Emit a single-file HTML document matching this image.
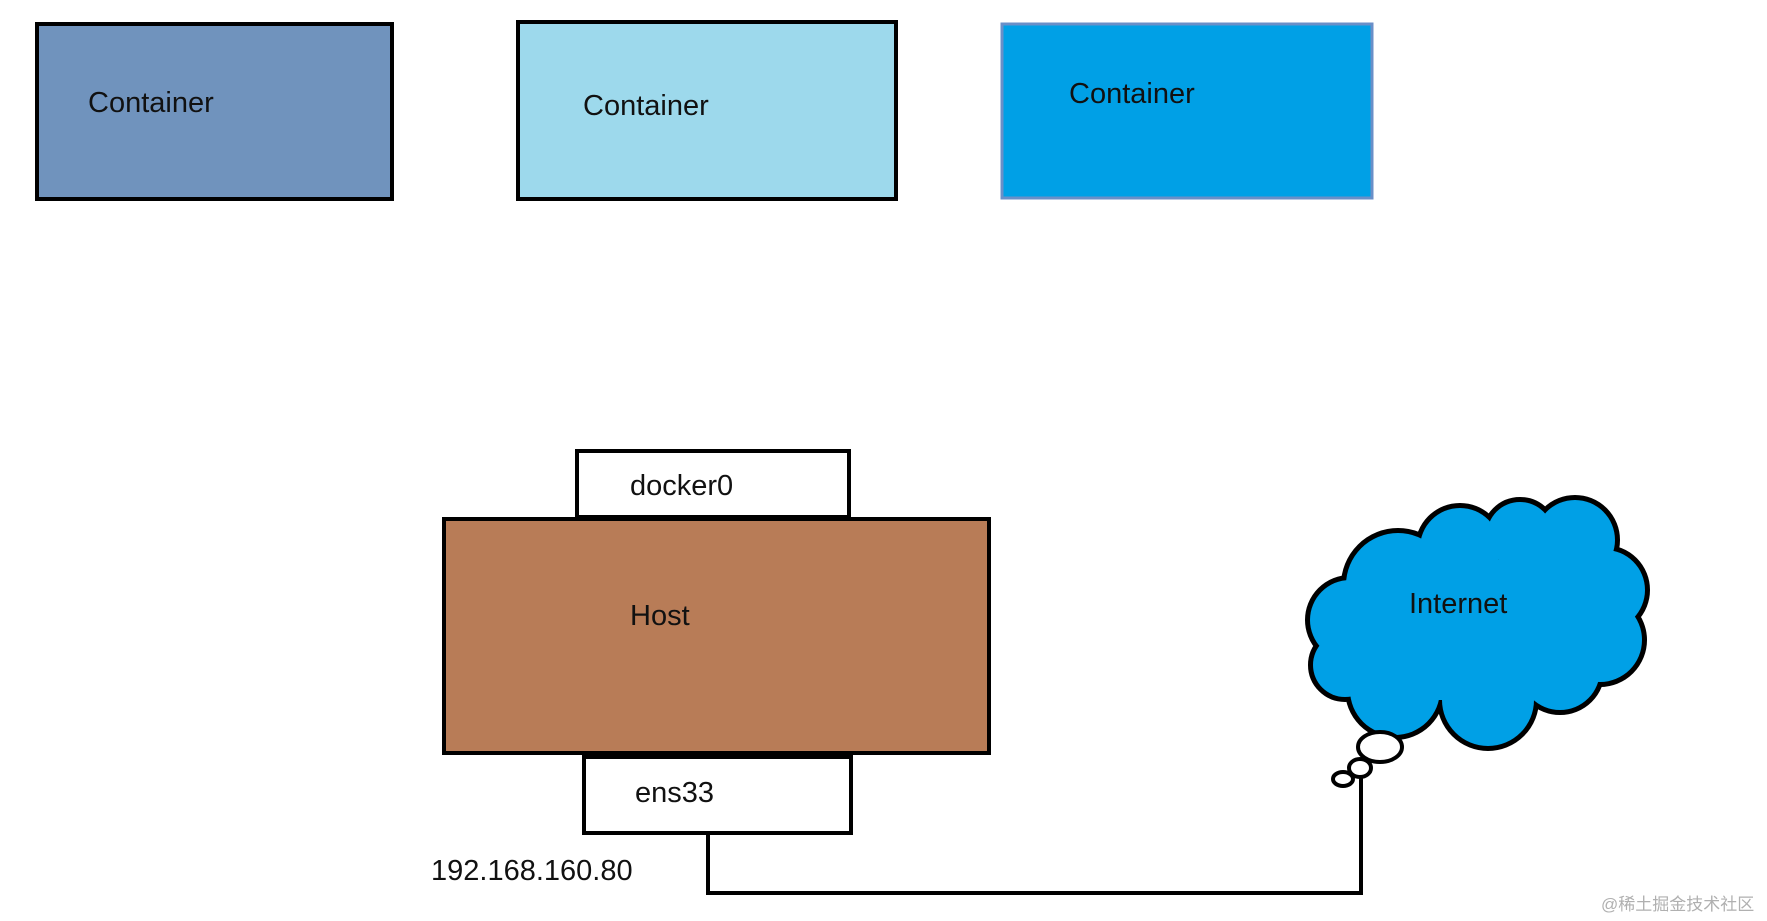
<!DOCTYPE html>
<html><head><meta charset="utf-8"><style>
html,body{margin:0;padding:0;background:#fff;width:1767px;height:921px;overflow:hidden}
svg text{font-family:"Liberation Sans",sans-serif;fill:#111}
</style></head><body>
<svg width="1767" height="921" viewBox="0 0 1767 921" xmlns="http://www.w3.org/2000/svg">
<rect x="37" y="24" width="355" height="175" fill="#7093bd" stroke="#000" stroke-width="4"/>
<text x="88" y="112" font-size="29">Container</text>
<rect x="518" y="22" width="378" height="177" fill="#9dd9ec" stroke="#000" stroke-width="4"/>
<text x="583" y="115" font-size="29">Container</text>
<rect x="1002" y="24" width="370" height="174" fill="#00a0e6" stroke="#6a8fc8" stroke-width="3"/>
<text x="1069" y="103" font-size="29">Container</text>

<rect x="577" y="451" width="272" height="66" fill="#fff" stroke="#000" stroke-width="4"/>
<text x="630" y="495" font-size="29">docker0</text>
<rect x="444" y="519" width="545" height="234" fill="#b87c57" stroke="#000" stroke-width="4"/>
<text x="630" y="625" font-size="29">Host</text>
<rect x="584" y="757" width="267" height="76" fill="#fff" stroke="#000" stroke-width="4"/>
<text x="635" y="802" font-size="29">ens33</text>
<text x="431" y="880" font-size="29">192.168.160.80</text>
<polyline points="708,833 708,893 1361,893 1361,773" fill="none" stroke="#000" stroke-width="4"/>

<g stroke="#000" stroke-width="10" fill="#00a0e6">
<circle cx="1350" cy="620" r="40"/><circle cx="1398" cy="585" r="52"/><circle cx="1460" cy="548" r="40"/>
<circle cx="1520" cy="535" r="33"/><circle cx="1575" cy="540" r="40"/><circle cx="1605" cy="590" r="40"/>
<circle cx="1600" cy="640" r="42"/><circle cx="1560" cy="670" r="40"/><circle cx="1488" cy="700" r="46"/>
<circle cx="1395" cy="690" r="45"/><circle cx="1345" cy="665" r="32"/>
</g>
<g fill="#00a0e6">
<circle cx="1350" cy="620" r="40"/><circle cx="1398" cy="585" r="52"/><circle cx="1460" cy="548" r="40"/>
<circle cx="1520" cy="535" r="33"/><circle cx="1575" cy="540" r="40"/><circle cx="1605" cy="590" r="40"/>
<circle cx="1600" cy="640" r="42"/><circle cx="1560" cy="670" r="40"/><circle cx="1488" cy="700" r="46"/>
<circle cx="1395" cy="690" r="45"/><circle cx="1345" cy="665" r="32"/>
<rect x="1370" y="560" width="210" height="140"/>
</g>
<text x="1409" y="613" font-size="29">Internet</text>
<g fill="#fff" stroke="#000" stroke-width="4">
<ellipse cx="1380" cy="747" rx="22" ry="15"/>
<ellipse cx="1360" cy="768" rx="11" ry="9"/>
<ellipse cx="1343" cy="779" rx="10" ry="7"/>
</g>
<text x="1601" y="910" font-size="17" style="fill:#b0b0b0;font-family:'Liberation Sans','Noto Sans CJK SC',sans-serif">@稀土掘金技术社区</text>
</svg>
</body></html>
